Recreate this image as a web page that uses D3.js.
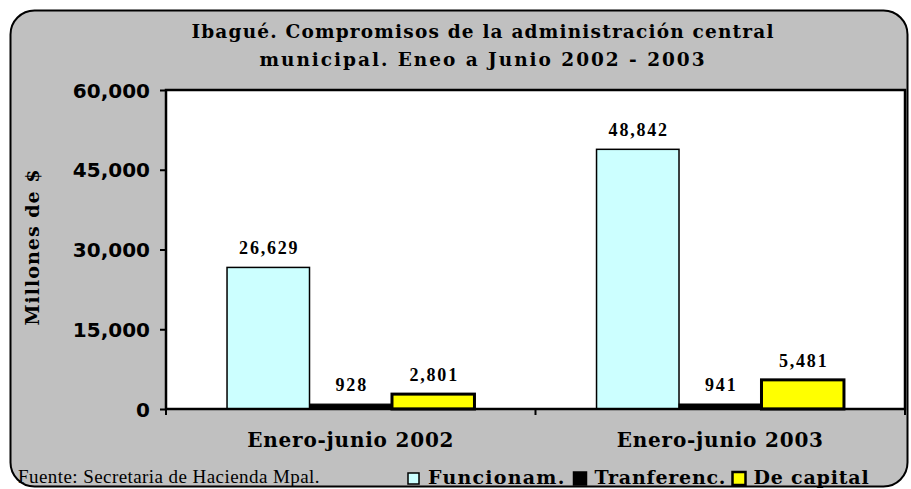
<!DOCTYPE html>
<html>
<head>
<meta charset="utf-8">
<script src="https://cdn.jsdelivr.net/npm/d3@7"></script>
<style>
  body { margin: 0; background: #ffffff; }
</style>
</head>
<body>
<svg id="grafico"></svg>
<script>
// datos del grafico
const categorias = ["Enero-junio 2002", "Enero-junio 2003"]
const series = ["Funcionam.", "Tranferenc.", "De capital"]
const funcionam = [26629, 48842]
const tranferenc = [928, 941]
const deCapital = [2801, 5481]
const ticksY = [0, 15000, 30000, 45000, 60000]
const titulo = ["Ibagué. Compromisos de la administración central", "municipal. Eneo a Junio 2002 - 2003"]
const tituloY = "Millones de $"
const fuente = "Fuente: Secretaria de Hacienda Mpal."

const width = 911
const height = 489
const colores = { "Funcionam.": "#ccffff", "Tranferenc.": "#000000", "De capital": "#ffff00" }
const bordes = { "Funcionam.": 1.5, "Tranferenc.": 1, "De capital": 3 }

const serif = "'Liberation Serif', 'Times New Roman', Times, serif"
const slab = "'DejaVu Serif', serif"

// area del grafico
const plot = { x0: 166, x1: 905, y0: 90, y1: 409 }

const svg = d3.select("#grafico").attr("width", width).attr("height", height)

// ajusta el espaciado de letras para que el texto mida lo que mide en la imagen
function ajustar(sel, ancho) {
    sel.each(function() {
        const n = this.textContent.length
        const largo = this.getComputedTextLength()
        d3.select(this).attr("letter-spacing", ((ancho - largo) / n).toFixed(2))
    })
}

// fondo gris con esquinas redondeadas
svg.append("rect")
    .attr("x", 10.5).attr("y", 10.5)
    .attr("width", 897).attr("height", 476)
    .attr("rx", 24).attr("ry", 24)
    .style("fill", "#c0c0c0")
    .style("stroke", "#000").style("stroke-width", 2)

svg.append("rect")
    .attr("x", plot.x0).attr("y", plot.y0)
    .attr("width", plot.x1 - plot.x0).attr("height", plot.y1 - plot.y0)
    .style("fill", "#fff")

// escalas
const x0 = d3.scaleBand().domain(categorias).range([plot.x0, plot.x1]).padding(0)
const x1 = d3.scaleBand().domain(series).range([0, x0.bandwidth()]).paddingInner(0).paddingOuter(0.74)
const y = d3.scaleLinear().domain([0, 60000]).range([plot.y1, plot.y0])

const datos = categorias.map((c, i) => ({
    cat: c,
    valores: [
        { serie: series[0], v: funcionam[i] },
        { serie: series[1], v: tranferenc[i] },
        { serie: series[2], v: deCapital[i] }
    ]
}))

// barras
const grupos = svg.append("g")
    .selectAll("g")
    .data(datos)
    .join("g")
    .attr("transform", d => `translate(${x0(d.cat)},0)`)

grupos.selectAll("rect")
    .data(d => d.valores)
    .join("rect")
    .attr("x", d => x1(d.serie))
    .attr("y", d => y(d.v))
    .attr("width", x1.bandwidth())
    .attr("height", d => y(0) - y(d.v))
    .style("fill", d => colores[d.serie])
    .style("stroke", "#000")
    .style("stroke-width", d => bordes[d.serie])

// etiquetas de valores
grupos.selectAll("text")
    .data(d => d.valores)
    .join("text")
    .attr("x", d => x1(d.serie) + x1.bandwidth() / 2 + 1)
    .attr("y", d => y(d.v) - 13)
    .attr("text-anchor", "middle")
    .style("font-family", serif)
    .style("font-weight", "bold")
    .style("font-size", "18px")
    .attr("letter-spacing", 1.8)
    .text(d => d3.format(",")(d.v))

// marco del area
svg.append("rect")
    .attr("x", plot.x0).attr("y", plot.y0)
    .attr("width", plot.x1 - plot.x0).attr("height", plot.y1 - plot.y0)
    .style("fill", "none")
    .style("stroke", "#000").style("stroke-width", 2.5)

// eje y
const ejeY = svg.append("g")
    .attr("transform", `translate(${plot.x0},0)`)
    .call(d3.axisLeft(y).tickValues(ticksY).tickFormat(d3.format(",")).tickSize(6).tickPadding(10))
ejeY.select(".domain").remove()
ejeY.selectAll("line").style("stroke", "#000").style("stroke-width", 2)
ejeY.selectAll("text")
    .style("font-family", "'DejaVu Sans', Verdana, sans-serif")
    .style("font-weight", "bold")
    .style("font-size", "20px")
    .style("fill", "#000")
    .attr("dy", "0.36em")

// eje x
const ejeX = svg.append("g")
    .attr("transform", `translate(0,${plot.y1})`)
    .call(d3.axisBottom(x0).tickSize(0).tickPadding(0))
ejeX.select(".domain").remove()
ejeX.selectAll("text")
    .attr("y", 38)
    .attr("dy", 0)
    .style("font-family", slab)
    .style("font-weight", "bold")
    .style("font-size", "20px")
    .style("fill", "#000")
    .call(ajustar, 207)

// marcas entre categorias
svg.append("g")
    .selectAll("line")
    .data([...categorias.map(c => x0(c)), plot.x1])
    .join("line")
    .attr("x1", d => d).attr("x2", d => d)
    .attr("y1", plot.y1).attr("y2", plot.y1 + 6)
    .style("stroke", "#000").style("stroke-width", 2)

// titulo
svg.append("g")
    .selectAll("text")
    .data(titulo)
    .join("text")
    .attr("x", 483)
    .attr("y", (d, i) => 38 + i * 27.5)
    .attr("text-anchor", "middle")
    .style("font-family", slab)
    .style("font-weight", "bold")
    .style("font-size", "18.5px")
    .text(d => d)
    .each(function(d, i) { d3.select(this).call(ajustar, i == 0 ? 583 : 447) })

// titulo eje y
svg.append("text")
    .attr("transform", "translate(39,247) rotate(-90)")
    .attr("text-anchor", "middle")
    .style("font-family", slab)
    .style("font-weight", "bold")
    .style("font-size", "19px")
    .text(tituloY)
    .call(ajustar, 157)

// fuente
svg.append("text")
    .attr("x", 18).attr("y", 483)
    .style("font-family", serif)
    .style("font-size", "19px")
    .text(fuente)
    .call(ajustar, 302)

// leyenda
const leyX = [408, 573.5, 732.5]
const leyAncho = [137.5, 131.7, 116]
const leyenda = svg.append("g")
    .selectAll("g")
    .data(series)
    .join("g")
    .attr("transform", (d, i) => `translate(${leyX[i]},473)`)

leyenda.append("rect")
    .attr("width", (d, i) => i == 0 ? 11 : 13)
    .attr("height", (d, i) => i == 0 ? 11 : 13)
    .attr("y", (d, i) => i == 0 ? 0 : -1)
    .style("fill", d => colores[d])
    .style("stroke", "#000")
    .style("stroke-width", d => d == "De capital" ? 2.5 : 1.5)

leyenda.append("text")
    .attr("x", (d, i) => i == 0 ? 20 : 21)
    .attr("y", 11)
    .style("font-family", slab)
    .style("font-weight", "bold")
    .style("font-size", "19px")
    .text(d => d)
    .each(function(d, i) { d3.select(this).call(ajustar, leyAncho[i]) })
</script>
</body>
</html>
